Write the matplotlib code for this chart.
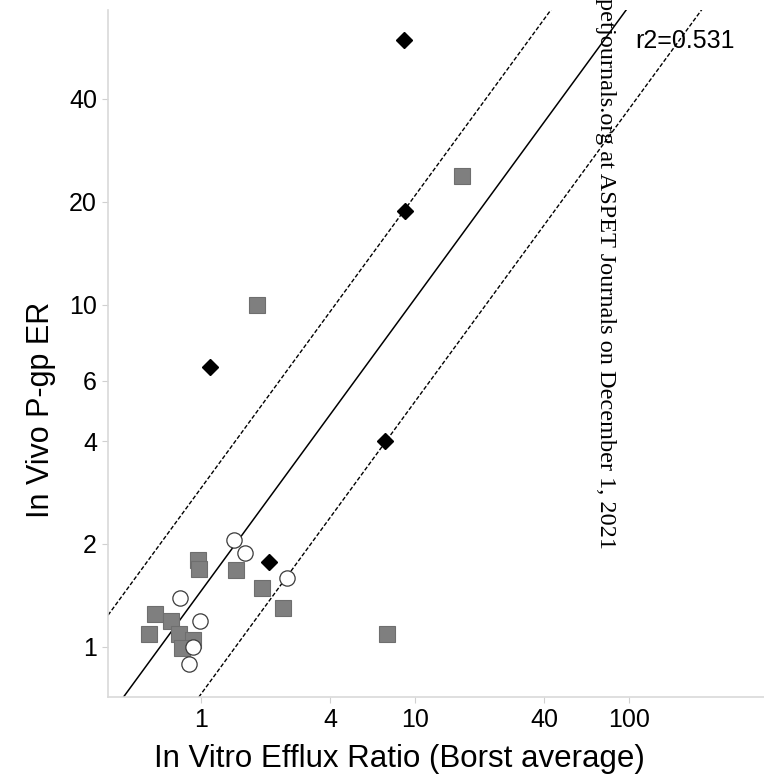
import numpy as np
import matplotlib
matplotlib.use("Agg")
import matplotlib.pyplot as plt

plt.rcParams["font.family"] = ["Liberation Sans", "DejaVu Sans"]

# compounds grouped by marker class
diamond_x = [8.9, 9.0, 1.10, 7.2, 2.08]
diamond_y = [59.6, 18.8, 6.6, 4.0, 1.77]

square_x = [16.6, 1.83, 0.97, 0.98, 1.45, 1.93, 2.42, 0.61, 0.72, 0.57, 0.79, 0.92, 0.81, 7.4]
square_y = [23.8, 10.0, 1.79, 1.69, 1.68, 1.49, 1.30, 1.25, 1.19, 1.09, 1.09, 1.05, 0.99, 1.09]

circle_x = [1.42, 1.61, 2.51, 0.80, 0.99, 0.92, 0.88]
circle_y = [2.05, 1.88, 1.59, 1.39, 1.19, 1.00, 0.89]

# log-log regression and 2-fold band
fit_slope = 0.855
fit_intercept = 0.164
fold = 2.0
r2 = 0.531

x_ticks = [1, 4, 10, 40, 100]
y_ticks = [1, 2, 4, 6, 10, 20, 40]
xlim = (0.367, 427)
ylim = (0.714, 72.8)

fig = plt.figure(figsize=(7.64, 7.82), dpi=100)
ax = fig.add_axes([0.1414, 0.1087, 0.8586, 0.8785])
ax.set_xscale("log")
ax.set_yscale("log")
ax.set_xlim(*xlim)
ax.set_ylim(*ylim)

xx = np.array(xlim)
fit = 10 ** (fit_intercept + fit_slope * np.log10(xx))
ax.plot(xx, fit, color="black", lw=1.1, zorder=1)
ax.plot(xx, fit * fold, color="black", lw=1.0, ls=(0, (3, 1.5)), zorder=1)
ax.plot(xx, fit / fold, color="black", lw=1.0, ls=(0, (3, 1.5)), zorder=1)

ax.plot(square_x, square_y, ls="none", marker="s", ms=12, mfc="#7f7f7f",
        mec="#6e6e6e", mew=0.8, zorder=3)
ax.plot(circle_x, circle_y, ls="none", marker="o", ms=11, mfc="white",
        mec="#3a3a3a", mew=0.9, zorder=4)
ax.plot(diamond_x, diamond_y, ls="none", marker="D", ms=8, mfc="black",
        mec="black", zorder=5)

ax.set_xticks(x_ticks)
ax.set_xticklabels([str(t) for t in x_ticks])
ax.set_yticks(y_ticks)
ax.set_yticklabels([str(t) for t in y_ticks])
ax.minorticks_off()
ax.tick_params(axis="both", labelsize=18, colors="#d0d0d0", labelcolor="black",
               length=4, width=0.8, pad=4)

for side in ("top", "right"):
    ax.spines[side].set_visible(False)
for side in ("left", "bottom"):
    ax.spines[side].set_color("#d9d9d9")
    ax.spines[side].set_linewidth(1.2)

ax.set_xlabel("In Vitro Efflux Ratio (Borst average)", fontsize=22.5)
ax.set_ylabel("In Vivo P-gp ER", fontsize=22)
ax.xaxis.set_label_coords(0.445, -0.069)
ax.yaxis.set_label_coords(-0.08, 0.418)

fig.text(0.832, 0.948, f"r2={r2}", fontsize=18, ha="left", va="center")

fig.text(0.792, 1.003, "petjournals.org at ASPET Journals on December 1, 2021",
         rotation=270, ha="center", va="top", fontsize=17.5,
         family=["Liberation Serif", "DejaVu Serif"])

fig.savefig("out.png", dpi=100, facecolor="white")
